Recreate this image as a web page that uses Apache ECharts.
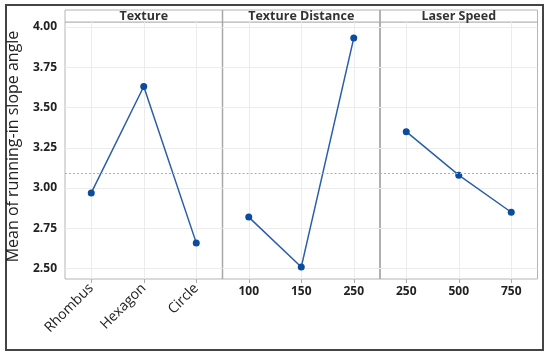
<!DOCTYPE html>
<html lang="en">
<head>
    <meta charset="UTF-8">
    <title>Main effects plot</title>
    <script src="https://cdn.jsdelivr.net/npm/echarts@6/dist/echarts.min.js"></script>
    <style>
        html, body { margin: 0; padding: 0; background: #fff; }
        #main { width: 550px; height: 359px; }
    </style>
</head>
<body>
    <div id="main"></div>
    <script>
        // data
        var panels = ['Texture', 'Texture Distance', 'Laser Speed'];
        var textureLevels = ['Rhombus', 'Hexagon', 'Circle'];
        var distanceLevels = ['100', '150', '250'];
        var speedLevels = ['250', '500', '750'];
        var textureMeans = [2.97, 3.63, 2.66];
        var distanceMeans = [2.82, 2.51, 3.93];
        var speedMeans = [3.35, 3.08, 2.85];
        var yTicks = [2.50, 2.75, 3.00, 3.25, 3.50, 3.75, 4.00];
        var grandMean = 3.09;

        var levels = [textureLevels, distanceLevels, speedLevels];
        var means = [textureMeans, distanceMeans, speedMeans];

        var plotLeft = 65, panelW = 157.5, plotTop = 22, plotH = 257;
        var fontFam = '"Open Sans", "Noto Sans", sans-serif';

        var grids = [], xAxes = [], yAxes = [], series = [], graphics = [];

        for (var i = 0; i < 3; i++) {
            var left = plotLeft + i * panelW;
            grids.push({
                left: left, top: plotTop, width: panelW, height: plotH,
                show: true, borderColor: '#b4b4b4', borderWidth: 1
            });
            xAxes.push({
                type: 'category', gridIndex: i, data: levels[i],
                boundaryGap: true,
                axisLine: { show: false },
                axisTick: { show: true, alignWithLabel: true, length: 4, lineStyle: { color: '#aaa' } },
                axisLabel: {
                    color: '#222', fontFamily: fontFam,
                    fontWeight: i === 0 ? 'normal' : 'bold',
                    fontSize: i === 0 ? 14 : 12,
                    rotate: i === 0 ? 45 : 0, margin: 7
                },
                splitLine: { show: true, alignWithLabel: true, lineStyle: { color: '#ececec' } }
            });
            yAxes.push({
                type: 'value', gridIndex: i, min: 2.436, max: 4.03,
                name: i === 0 ? 'Mean of running-in slope angle' : '',
                nameLocation: 'middle', nameGap: 44,
                nameTextStyle: { color: '#222', fontSize: 16, fontFamily: fontFam, padding: [0, 0, 0, 8] },
                axisLine: { show: false },
                axisTick: { show: false, customValues: yTicks },
                axisLabel: {
                    show: i === 0, customValues: yTicks,
                    color: '#222', fontSize: 12, fontWeight: 'bold', fontFamily: fontFam,
                    formatter: function (v) { return v.toFixed(2); }
                },
                splitLine: { show: true, lineStyle: { color: '#ececec' } }
            });
            series.push({
                type: 'line', xAxisIndex: i, yAxisIndex: i, data: means[i],
                symbol: 'circle', symbolSize: 7,
                lineStyle: { color: '#2a5ea8', width: 1.5 },
                itemStyle: { color: '#0c4c9e' },
                markLine: {
                    silent: true, symbol: 'none', label: { show: false },
                    lineStyle: { color: '#b0b0b0', type: [2, 2], width: 1 },
                    data: [{ yAxis: grandMean }]
                }
            });
            // panel header strip
            graphics.push({
                type: 'rect', shape: { x: left, y: 10, width: panelW, height: 12 },
                style: { fill: '#fff', stroke: '#b4b4b4', lineWidth: 1 }
            });
            graphics.push({
                type: 'text', x: left + panelW / 2, y: 16,
                style: {
                    text: panels[i], fill: '#333', fontSize: 12.5, fontWeight: 'bold',
                    fontFamily: fontFam, align: 'center', verticalAlign: 'middle'
                }
            });
            if (i > 0) {
                graphics.push({
                    type: 'line', shape: { x1: left, y1: 10, x2: left, y2: plotTop + plotH },
                    style: { stroke: '#a8a8a8', lineWidth: 1.5 }
                });
            }
        }
        // outer frame
        graphics.push({
            type: 'rect', shape: { x: 6, y: 5, width: 537, height: 345 },
            style: { fill: 'none', stroke: '#444', lineWidth: 2 }
        });

        var chart = echarts.init(document.getElementById('main'));
        chart.setOption({
            animation: false,
            grid: grids,
            xAxis: xAxes,
            yAxis: yAxes,
            series: series,
            graphic: graphics
        });
    </script>
</body>
</html>
